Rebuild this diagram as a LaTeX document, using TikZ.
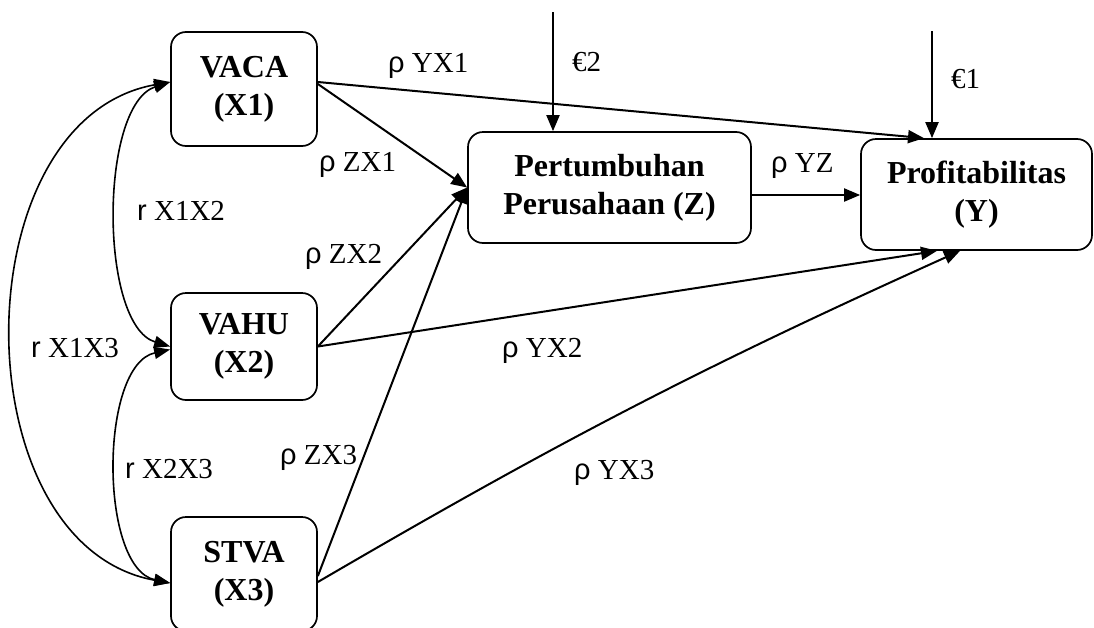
\documentclass[tikz,border=0pt]{standalone}
\usepackage{fontspec}
\setmainfont{Liberation Serif}
\newfontfamily\sansf{Liberation Sans}
\usetikzlibrary{arrows.meta,calc}
\begin{document}
\begin{tikzpicture}[x=1pt,y=-1pt,
  box/.style={draw, line width=1.7pt, rounded corners=15pt, align=center, inner sep=0pt,
    font=\fontsize{32}{38}\selectfont\bfseries},
  arr/.style={line width=2pt, -{Triangle[length=16pt,width=13pt]}},
  darr/.style={line width=1.6pt, {Triangle[length=16pt,width=12pt]}-{Triangle[length=16pt,width=12pt]}},
  lab/.style={anchor=base west, inner sep=0pt, font=\fontsize{29}{34}\selectfont}]
\useasboundingbox (0,0) rectangle (1094,627);
\clip (0,0) rectangle (1094,627);
% boxes
\node[box, minimum width=146pt, minimum height=114pt] (vaca) at (244,89) {VACA\\(X1)};
\node[box, minimum width=146pt, minimum height=107pt] (vahu) at (244,346.5) {VAHU\\(X2)};
\node[box, minimum width=146pt, minimum height=114pt] (stva) at (244,574) {STVA\\(X3)};
\node[box, minimum width=283pt, minimum height=111pt] (z) at (609.5,187.5) {Pertumbuhan\\Perusahaan (Z)};
\node[box, minimum width=231pt, minimum height=111pt] (y) at (976.5,194.5) {Profitabilitas\\(Y)};
% error terms
\coordinate (e2) at (553,12);
\coordinate (e1) at (932,31);
\draw[arr] (e2) -- (e2 |- z.north);
\draw[arr] (e1) -- (e1 |- y.north);
% paths
\draw[arr] ([yshift=7pt]vaca.east) -- ([xshift=-52.5pt]y.north);
\draw[arr] ([yshift=5pt]vaca.east) -- (z.west);
\draw[arr] (vahu.east) -- (z.west);
\draw[arr] ([yshift=-2pt]stva.east) -- (z.west);
\draw[arr] (vahu.east) -- ([xshift=-39.5pt]y.south);
\draw[arr] ([yshift=-8pt]stva.east) to[bend left=3] ([xshift=-16.5pt]y.south);
\draw[arr] ([yshift=-7.5pt]z.east) -- ([yshift=-0.5pt]y.west);
% correlations
\draw[darr] ([yshift=7pt]vaca.west) .. controls (99,105) and (99,325) .. (vahu.west);
\draw[darr] ([yshift=7pt]vaca.west) .. controls (-40,120) and (-40,545) .. ([yshift=-9pt]stva.west);
\draw[darr] ([yshift=-3pt]vahu.west) .. controls (99,365) and (99,568) .. ([yshift=-9pt]stva.west);
% labels
\node[lab] (lyx1) at (388,72) {{\sansf ρ} YX1};
\node[lab] (lzx1) at (319,171) {{\sansf ρ} ZX1};
\node[lab] (lr12) at (137,220) {{\sansf r} X1X2};
\node[lab] (lzx2) at (305,263) {{\sansf ρ} ZX2};
\node[lab] (lr13) at (31,357) {{\sansf r} X1X3};
\node[lab] (lyx2) at (502,357) {{\sansf ρ} YX2};
\node[lab] (lr23) at (125,478) {{\sansf r} X2X3};
\node[lab] (lzx3) at (280,464) {{\sansf ρ} ZX3};
\node[lab] (lyx3) at (574,479) {{\sansf ρ} YX3};
\node[lab] (lyz) at (771,172) {{\sansf ρ} YZ};
\node[lab] (le2) at (572,71) {€2};
\node[lab] (le1) at (951,88) {€1};
\end{tikzpicture}
\end{document}
